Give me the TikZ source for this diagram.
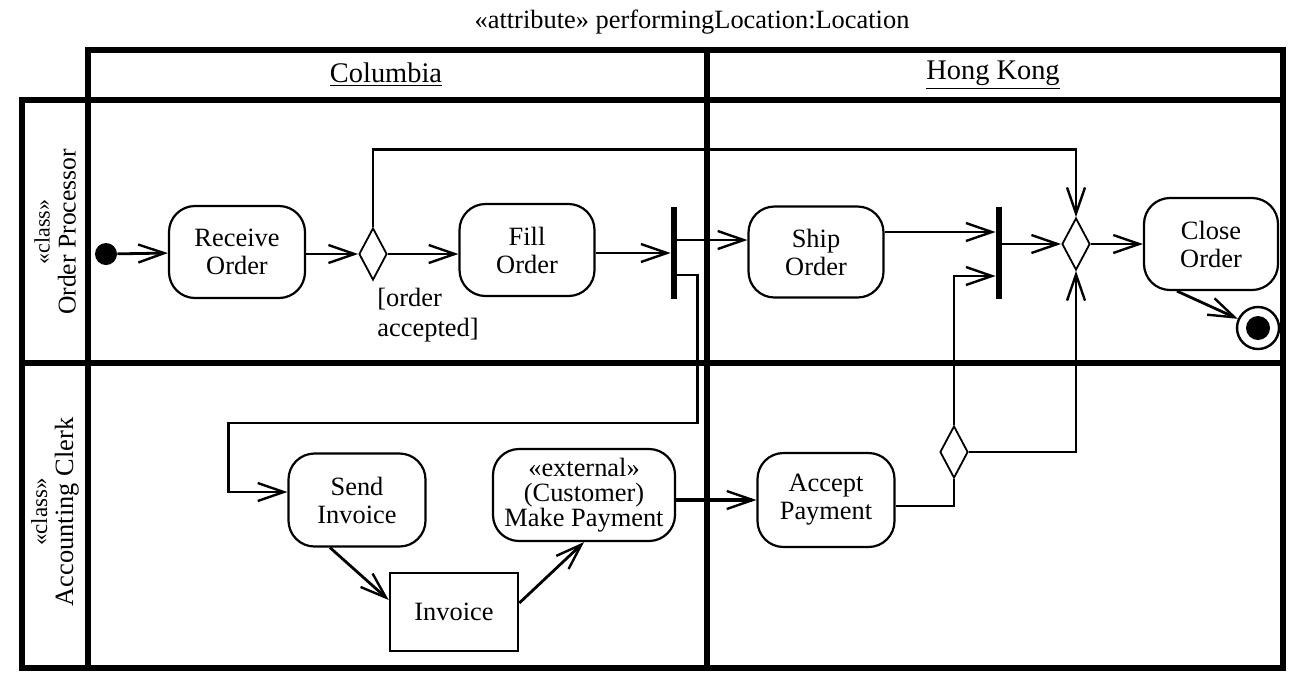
\documentclass[tikz,border=0pt]{standalone}
\usepackage{fontspec}
\setmainfont{Liberation Serif}
\usetikzlibrary{arrows.meta,positioning,shapes.geometric,calc}
\tikzset{
  lane/.style={line width=2.6pt,line cap=rect},
  activity/.style={draw,rounded corners=13pt,line width=1.1pt,align=center,inner sep=1pt,
    font=\rmfamily\fontsize{13.2}{14}\selectfont},
  decision/.style={draw,diamond,line width=0.9pt,inner sep=0pt,minimum width=14pt,minimum height=26pt},
  syncbar/.style={fill=black,inner sep=0pt,minimum width=3pt,minimum height=46pt},
  flow/.style={line width=1.4pt,-{Straight Barb[length=13pt,width=9pt,line width=1.2pt]}},
  thinflow/.style={flow,line width=0.9pt},
  lanetitle/.style={font=\rmfamily\fontsize{14.2}{16}\selectfont},
}

\begin{document}
\begin{tikzpicture}[x=0.5pt,y=-0.5pt]
  \useasboundingbox[fill=white] (0,0) rectangle (1304,698);
  % partitions
  \draw[lane] (88,50) -- (1283,50) -- (1283,668) -- (22,668) -- (22,100) -- (1283,100);
  \draw[lane] (88,50) -- (88,668);
  \draw[lane] (707,50) -- (707,668);
  \draw[lane] (22,363) -- (1283,363);
  \node[font=\rmfamily\fontsize{13.2}{15}\selectfont] (title) at (692,22) {«attribute» performingLocation:Location};
  \node[lanetitle] (columbia) at (386,75) {\underline{Columbia}};
  \node[lanetitle] (hongkong) at (993,75) {\underline{Hong Kong}};
  \node[rotate=90,align=center,font=\rmfamily\fontsize{12.8}{13}\selectfont] (orderproc) at (55,232)
    {{\fontsize{11}{12}\selectfont «class»}\\Order Processor};
  \node[rotate=90,align=center,font=\rmfamily\fontsize{13.2}{13}\selectfont] (clerk) at (55,512)
    {{\fontsize{11.5}{12}\selectfont «class»}\\Accounting Clerk};

  % order processor lane
  \node[circle,fill=black,inner sep=0pt,minimum size=11pt] (init) at (106,254) {};
  \node[activity,minimum width=68pt,minimum height=46pt] (recv) at (237,252) {Receive\\Order};
  \node[decision] (accepted) at (373,254) {};
  \node[activity,minimum width=67.5pt,minimum height=46pt] (fill) at (527,250) {Fill\\Order};
  \node[syncbar] (fork) at (674,253) {};
  \node[activity,minimum width=67.5pt,minimum height=45.5pt] (ship) at (816,252) {Ship\\Order};
  \node[syncbar] (join) at (999,253) {};
  \node[decision] (merge) at (1076,244) {};
  \node[activity,minimum width=67pt,minimum height=46pt] (close) at (1211,244) {Close\\Order};
  \node[circle,draw,line width=1.2pt,inner sep=0pt,minimum size=21pt] (final) at (1258,328) {};
  \node[circle,fill=black,inner sep=0pt,minimum size=12pt] (finaldot) at (final) {};
  \node[align=left,font=\rmfamily\fontsize{13.2}{15}\selectfont] (guard) at (428,315) {[order\\accepted]};

  % accounting clerk lane
  \node[activity,minimum width=68.5pt,minimum height=46.5pt] (send) at (357,500) {Send\\Invoice};
  \node[draw,line width=1.3pt,minimum width=64pt,minimum height=39pt,
    font=\rmfamily\fontsize{13.2}{14}\selectfont] (invoice) at (454,612) {Invoice};
  \node[activity,minimum width=91pt,minimum height=46pt,font=\rmfamily\fontsize{13.2}{12.6}\selectfont]
    (pay) at (584,495) {«external»\\(Customer)\\Make Payment};
  \node[activity,minimum width=68.5pt,minimum height=47pt] (accept) at (826,500) {Accept\\Payment};
  \node[decision] (paid) at (954,452) {};

  % flows
  \draw[flow] (init) -- (recv);
  \draw[flow] (recv.east |- accepted.west) -- (accepted.west);
  \draw[flow] (accepted) -- (fill.west |- accepted.east);
  \draw[flow] (accepted.north) -- ++(0,-78) -| (merge.north);
  \draw[flow] (fill.east |- fork.west) -- (fork.west);
  \draw[thinflow] ([yshift=6.5pt]fork.east) -- ([yshift=6.5pt]fork.east -| ship.west);
  \draw[flow] ([yshift=-11pt]fork.east) -- ++(20,0) -- ++(0,148) -- ++(-469,0)
    |- ([yshift=4pt]send.west);
  \draw[flow] ([yshift=10pt]ship.east) -- ([yshift=10pt]ship.east -| join.west);
  \draw[thinflow] (join.east |- merge.west) -- (merge.west);
  \draw[flow] (merge) -- (close);
  \draw[flow] ([xshift=-17pt]close.south) -- (final);
  \draw[flow] ([xshift=-13.5pt]send.south) -- ([yshift=6pt]invoice.west);
  \draw[flow] ([yshift=4.5pt]invoice.east) -- (pay.south);
  \draw[flow,line width=2.2pt] (pay.east |- accept.west) -- (accept.west);
  \draw[line width=1.4pt] ([yshift=-3pt]accept.east) -| (paid.south);
  \draw[flow] (paid.north) |- ([yshift=-11.5pt]join.west);
  \draw[flow] (paid.east) -| (merge.south);
\end{tikzpicture}
\end{document}
